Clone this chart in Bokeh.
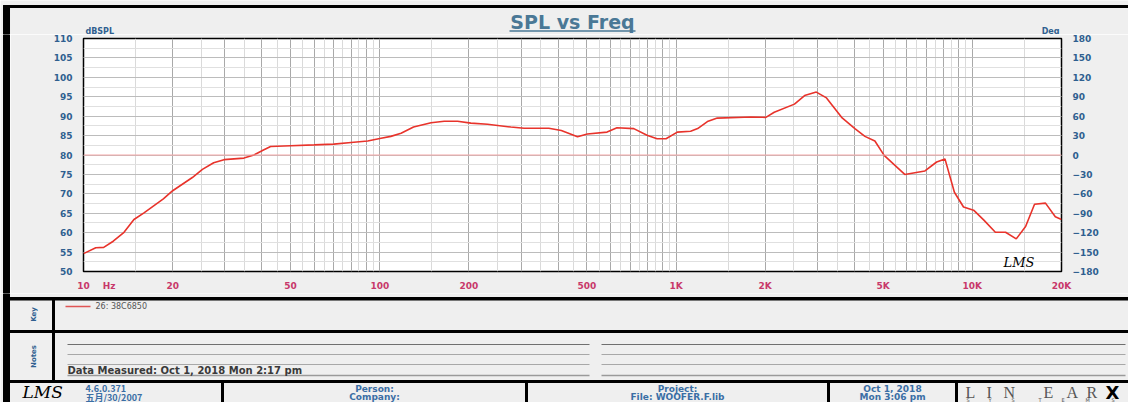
import math
from bokeh.plotting import figure
from bokeh.models import Range1d, LinearAxis, FixedTicker, Span, Label
from bokeh.layouts import row, column
from bokeh.embed import file_html
from bokeh.resources import INLINE
from bokeh.core.properties import value

# ---------------- data ----------------
freq_hz = [10, 11, 11.7, 12.6, 13.7, 14.8, 16, 18.6, 20, 23.3, 25.2, 27.5, 29.8, 34.8,
           37.6, 40.5, 42.8, 50, 60, 70, 80, 91, 101, 109, 118, 130, 149, 165, 183, 203,
           231, 277, 307, 372, 410, 465, 502, 585, 632, 720, 798, 863, 925, 1010, 1120,
           1183, 1276, 1378, 1790, 2010, 2145, 2510, 2716, 2975, 3220, 3620, 4015, 4340,
           4690, 5040, 5470, 5915, 6920, 7580, 8085, 8700, 9340, 10100, 10920, 11960,
           12950, 14070, 15130, 16220, 17660, 19060, 20000]
spl_db = [54.6, 56.1, 56.2, 57.8, 60.1, 63.4, 65.1, 68.7, 70.8, 74.2, 76.3, 78.0, 78.8, 79.2,
          80.0, 81.3, 82.2, 82.4, 82.6, 82.8, 83.2, 83.6, 84.3, 84.8, 85.6, 87.2, 88.3, 88.7,
          88.7, 88.2, 87.9, 87.2, 86.9, 86.9, 86.3, 84.7, 85.4, 85.9, 87.0, 86.8, 85.1, 84.2,
          84.2, 85.9, 86.1, 86.8, 88.6, 89.5, 89.8, 89.7, 91.0, 93.1, 95.3, 96.2, 94.7, 89.7,
          86.8, 84.8, 83.6, 79.9, 77.4, 75.0, 75.9, 78.2, 79.0, 70.4, 66.6, 65.8, 63.3, 60.1,
          60.1, 58.4, 61.6, 67.3, 67.6, 64.1, 63.4]

x_tick_values = [10, 20, 50, 100, 200, 500, 1000, 2000, 5000, 10000, 20000]
x_tick_labels = ["10", "20", "50", "100", "200", "500", "1K", "2K", "5K", "10K", "20K"]
unit_tick = 12.2          # where the "Hz" unit text sits on the frequency axis
unit_label = "Hz"
spl_ticks = list(range(50, 111, 5))
deg_ticks = list(range(-180, 181, 30))

title_text = "SPL vs Freq"
left_unit = "dBSPL"
right_unit = "Deg"
legend_text = "26: 38C6850"
measured_text = "Data Measured: Oct 1, 2018 Mon 2:17 pm"
version_lines = ["4.6.0.371", "五月/30/2007"]
person_lines = ["Person:", "Company:"]
project_lines = ["Project:", "File: WOOFER.F.lib"]
date_lines = ["Oct 1, 2018", "Mon 3:06 pm"]

# ---------------- styles ----------------
PANEL = "#efefef"
BLUE = "#2f5f8f"
FOOT_BLUE = "#3a6ea5"
MAGENTA = "#c8386a"
CURVE = "#e8332b"
FONT = "DejaVu Sans"
FULL_W = 1128
BAR_W = 10


def deco_fig(width, height, x0, x1, y0, y1, bg=PANEL):
    return figure(width=width, height=height, x_range=Range1d(x0, x1),
                  y_range=Range1d(y0, y1), x_axis_type=None, y_axis_type=None,
                  toolbar_location=None, output_backend="svg", min_border=0,
                  background_fill_color=bg, border_fill_color=bg,
                  outline_line_color=None, frame_align=False)


# ---------------- header (page y 0..34) ----------------
hdr = deco_fig(FULL_W, 34, 0, FULL_W, 34, 0)
hdr.quad(left=[3], right=[FULL_W], top=[5], bottom=[7], color="black")
hdr.quad(left=[3], right=[9], top=[5], bottom=[34], color="black")
hdr.text(x=[572], y=[21.5], text=[title_text], text_align="center",
         text_baseline="middle", text_font=value(FONT), text_font_style="bold",
         text_font_size="19px", text_color="#4a7896")
hdr.line(x=[509, 635], y=[30.5, 30.5], line_color="#4a7896", line_width=1.5)
hdr.text(x=[85], y=[30.5], text=[left_unit], text_baseline="middle",
         text_font=value(FONT), text_font_style="bold", text_font_size="8px",
         text_color=BLUE)
hdr.text(x=[1059], y=[30.5], text=[right_unit], text_align="right",
         text_baseline="middle", text_font=value(FONT), text_font_style="bold",
         text_font_size="8px", text_color=BLUE)

# ---------------- chart (page y 34..293) ----------------
CH = 259
bar = deco_fig(BAR_W, CH, 0, BAR_W, 0, 1)
bar.quad(left=[3], right=[9], top=[1], bottom=[0], color="black")

p = figure(width=FULL_W - BAR_W, height=CH, x_axis_type="log", x_range=Range1d(10, 20000),
           y_range=Range1d(50, 110), toolbar_location=None, output_backend="svg",
           min_border_left=73, min_border_right=67, min_border_top=4, min_border_bottom=17,
           background_fill_color="white", border_fill_color=PANEL,
           outline_line_color="black", outline_line_width=1.5, frame_align=False)

dark_x = [k * 10 ** n for n in range(1, 5) for k in range(1, 10) if 10 <= k * 10 ** n <= 20000]
light_x = [(k + 0.5) * 10 ** n for n in range(1, 5) for k in range(1, 10)
           if 10 <= (k + 0.5) * 10 ** n <= 20000]
p.xgrid.ticker = FixedTicker(ticks=dark_x, minor_ticks=light_x)
p.xgrid.grid_line_color = "#a9a9a9"
p.xgrid.minor_grid_line_color = "#dadada"
p.ygrid.ticker = FixedTicker(ticks=spl_ticks, minor_ticks=[50 + 2.5 * i for i in range(25)])
p.ygrid.grid_line_color = "#bcbcbc"
p.ygrid.minor_grid_line_color = "#e0e0e0"

p.xaxis.ticker = FixedTicker(ticks=x_tick_values + [unit_tick])
overrides = dict(zip(x_tick_values, x_tick_labels))
overrides[unit_tick] = unit_label
p.xaxis.major_label_overrides = overrides
p.xaxis.major_label_text_color = MAGENTA
p.xaxis.major_label_text_font = FONT
p.xaxis.major_label_text_font_style = "bold"
p.xaxis.major_label_text_font_size = "9px"
p.xaxis.major_label_standoff = 3
p.xaxis.major_tick_line_color = None
p.xaxis.minor_tick_line_color = None
p.xaxis.axis_line_color = None

p.yaxis.ticker = FixedTicker(ticks=spl_ticks)
p.extra_y_ranges = {"deg": Range1d(-180, 180)}
ax_r = LinearAxis(y_range_name="deg", ticker=FixedTicker(ticks=deg_ticks))
p.add_layout(ax_r, "right")
for ax in p.yaxis:
    ax.major_label_text_color = BLUE
    ax.major_label_text_font = FONT
    ax.major_label_text_font_style = "bold"
    ax.major_label_text_font_size = "9px"
    ax.major_label_standoff = 5
    ax.major_tick_line_color = None
    ax.minor_tick_line_color = None
    ax.axis_line_color = None

p.add_layout(Span(location=80, dimension="width", line_color="#f4a6a6", line_width=1))
p.line(freq_hz, spl_db, line_color=CURVE, line_width=1.6)

p.add_layout(Label(x=920, y=9, x_units="screen", y_units="screen", text="LMS",
                   text_baseline="middle", text_font="DejaVu Serif",
                   text_font_style="italic", text_font_size="13px", text_color="black"))

# ---------------- lower panels (page y 293..402) ----------------
lo = deco_fig(FULL_W, 109, 0, FULL_W, 402, 293)
lo.quad(left=[3], right=[9], top=[293], bottom=[402], color="black")
lo.quad(left=[3] * 3, right=[FULL_W] * 3, top=[297, 330, 380],
        bottom=[299.5, 332, 382], color="black")
lo.quad(left=[52], right=[54], top=[298], bottom=[381], color="black")
lo.quad(left=[221, 525, 827, 955], right=[223, 527, 829, 957],
        top=[381] * 4, bottom=[402] * 4, color="black")

# key
lo.line(x=[65, 90], y=[306, 306], line_color="#e05555", line_width=1.5)
lo.text(x=[95], y=[306], text=[legend_text], text_baseline="middle",
        text_font=value(FONT), text_font_size="8px", text_color="#555555")
lo.text(x=[33, 33], y=[314, 356], text=["Key", "Notes"], angle=math.pi / 2,
        text_align="center", text_baseline="middle", text_font=value(FONT),
        text_font_style="bold", text_font_size="7px", text_color=BLUE)

# notes lines
ys = [344, 354, 364, 375]
cols = ["#6f6f6f", "#a8a8a8", "#a8a8a8", "#9a9a9a"]
wid = [1, 1, 1, 1.5]
lo.segment(x0=[67] * 4 + [601] * 4, y0=ys + ys, x1=[589] * 4 + [1125] * 4, y1=ys + ys,
           line_color=cols + cols, line_width=wid + wid)
lo.text(x=[67], y=[369.5], text=[measured_text], text_baseline="middle",
        text_font=value(FONT), text_font_style="bold", text_font_size="10px",
        text_color="#3a3a3a")

# footer
lo.text(x=[22], y=[391.5], text=["LMS"], text_baseline="middle",
        text_font=value("DejaVu Serif"), text_font_style="italic", text_font_size="17px",
        text_color="black")
lo.text(x=[85, 85], y=[388, 396.5], text=version_lines, text_baseline="middle",
        text_font=value("Noto Sans CJK SC"), text_font_style="bold", text_font_size="9px",
        text_color=FOOT_BLUE)
for cx, lines in [(374, person_lines), (677, project_lines), (892, date_lines)]:
    lo.text(x=[cx, cx], y=[388, 396.5], text=lines, text_align="center",
            text_baseline="middle", text_font=value(FONT), text_font_style="bold",
            text_font_size="9px", text_color=FOOT_BLUE)

lo.text(x=[965, 986, 1003, 1043, 1066, 1086], y=[391.5] * 6,
        text=["L", "I", "N", "E", "A", "R"], text_baseline="middle",
        text_font=value("Liberation Serif"), text_font_size="16px", text_color="#555555")
lo.text(x=[1105], y=[391.5], text=["X"], text_baseline="middle",
        text_font=value(FONT), text_font_style="bold", text_font_size="18px",
        text_color="black")
lo.text(x=[966, 988, 1011, 1038, 1061, 1085, 1111], y=[399.5] * 7,
        text=["S", "Y", "S", "T", "E", "M", "S"], text_baseline="middle",
        text_font=value(FONT), text_font_size="5px", text_color="#555555")

layout = column(hdr, row(bar, p), lo)

with open("out.html", "w") as fh:
    fh.write(file_html(layout, INLINE))
